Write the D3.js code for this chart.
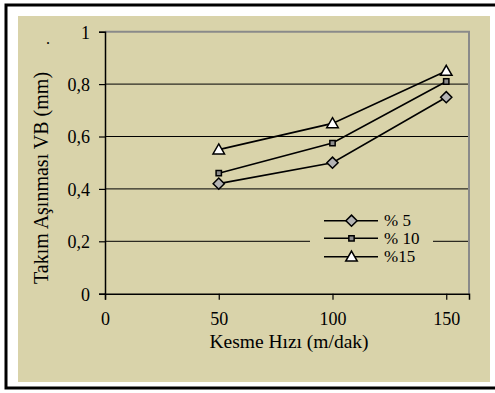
<!DOCTYPE html>
<html>
<head>
<meta charset="utf-8">
<script src="https://cdn.jsdelivr.net/npm/d3@7"></script>
<style>
    body { margin: 0; background: #fff; }
    svg { display: block; font-family: 'Liberation Serif', 'Times New Roman', serif; }
</style>
</head>
<body>
<svg id="chart" width="495" height="393"></svg>
<script>
'use strict';

// Data
const speeds = [50, 100, 150];
const wear5 = [0.42, 0.50, 0.75];
const wear10 = [0.46, 0.575, 0.81];
const wear15 = [0.55, 0.65, 0.85];
const seriesNames = ['% 5', '% 10', '%15'];
const xTicks = [0, 50, 100, 150];
const yTicks = [0, 0.2, 0.4, 0.6, 0.8, 1];

(function () {

    const svg = d3.select('#chart');
    const bg = '#d9d3aa';

    // Outer frame
    svg.append('rect')
        .attr('x', 18).attr('y', 16)
        .attr('width', 472).attr('height', 366)
        .attr('fill', bg);
    svg.append('path')
        .attr('d', 'M496,5 H6 V388 H496')
        .attr('fill', 'none')
        .attr('stroke', '#000')
        .attr('stroke-width', 3);

    // Plot area
    const plot = {left: 105, right: 469, top: 31.7, bottom: 293.7};

    const scX = d3.scaleLinear().domain([0, 160]).range([plot.left, plot.right]);
    const scY = d3.scaleLinear().domain([0, 1]).range([plot.bottom, plot.top]);

    // Gridlines
    svg.append('g')
        .selectAll('line')
        .data(yTicks.filter(d => d > 0 && d < 1))
        .enter()
        .append('line')
            .attr('x1', plot.left).attr('x2', plot.right)
            .attr('y1', d => scY(d)).attr('y2', d => scY(d))
            .attr('stroke', '#000')
            .attr('stroke-width', 1);

    // Plot border (top/right gray)
    svg.append('path')
        .attr('d', `M${plot.left},${plot.top} H${plot.right} V${plot.bottom}`)
        .attr('fill', 'none')
        .attr('stroke', '#8a8a8a')
        .attr('stroke-width', 2);

    // Axes
    const fmt = d => String(d).replace('.', ',');

    const yAxis = svg.append('g')
        .attr('transform', `translate(${plot.left},0)`)
        .call(d3.axisLeft(scY).tickValues(yTicks).tickFormat(fmt).tickSize(6).tickPadding(9));
    const xAxis = svg.append('g')
        .attr('transform', `translate(0,${plot.bottom})`)
        .call(d3.axisBottom(scX).tickValues(xTicks).tickSize(6).tickPadding(13));

    [yAxis, xAxis].forEach(ax => {
        ax.select('.domain').attr('stroke', '#000').attr('stroke-width', 1.5);
        ax.selectAll('.tick line').attr('stroke', '#000').attr('stroke-width', 1.2);
        ax.selectAll('.tick text')
            .attr('fill', '#000')
            .style('font-family', "'Liberation Serif', serif")
            .style('font-size', '18px');
    });
    yAxis.selectAll('.tick text').attr('dy', '0.36em');
    xAxis.selectAll('.tick text').attr('dy', '0.7em');

    // Axis titles
    svg.append('text')
        .attr('transform', 'translate(48,178) rotate(-90)')
        .attr('text-anchor', 'middle')
        .style('font-size', '20px')
        .text('Takım Aşınması VB (mm)');
    svg.append('text')
        .attr('x', 289).attr('y', 348)
        .attr('text-anchor', 'middle')
        .style('font-size', '19.5px')
        .text('Kesme Hızı (m/dak)');
    svg.append('text')
        .attr('x', 46).attr('y', 44)
        .style('font-size', '16px')
        .text('.');

    // Marker shapes
    const markers = [
        {sym: d3.symbolDiamond2, size: 80, fill: '#b4b4b4'},
        {sym: d3.symbolSquare2, size: 36, fill: '#8c8c8c'},
        {sym: d3.symbolTriangle2, size: 95, fill: '#ffffff'}
    ];
    const series = [wear5, wear10, wear15];

    const line = d3.line()
        .x((d, i) => scX(speeds[i]))
        .y(d => scY(d));

    series.forEach((vals) => {
        svg.append('path')
            .datum(vals)
            .attr('d', line)
            .attr('fill', 'none')
            .attr('stroke', '#000')
            .attr('stroke-width', 1.6);
    });

    series.forEach((vals, k) => {
        const m = markers[k];
        svg.append('g')
            .selectAll('path')
            .data(vals)
            .enter()
            .append('path')
                .attr('transform', (d, i) => `translate(${scX(speeds[i])},${scY(d) + (k === 2 ? 1 : 0)})`)
                .attr('d', d3.symbol().type(m.sym).size(m.size))
                .attr('fill', m.fill)
                .attr('stroke', '#000')
                .attr('stroke-width', 1.5);
    });

    // Legend
    const legend = svg.append('g');
    legend.append('rect')
        .attr('x', 310).attr('y', 210)
        .attr('width', 123).attr('height', 57)
        .attr('fill', bg);

    const rowY = [220.7, 238.3, 256.7];
    seriesNames.forEach((name, k) => {
        const m = markers[k];
        legend.append('line')
            .attr('x1', 324).attr('x2', 378)
            .attr('y1', rowY[k]).attr('y2', rowY[k])
            .attr('stroke', '#000')
            .attr('stroke-width', 1.6);
        legend.append('path')
            .attr('transform', `translate(351.5,${rowY[k] + (k === 2 ? 1 : 0)})`)
            .attr('d', d3.symbol().type(m.sym).size(m.size))
            .attr('fill', m.fill)
            .attr('stroke', '#000')
            .attr('stroke-width', 1.5);
        legend.append('text')
            .attr('x', 384).attr('y', rowY[k] + 5.5)
            .style('font-size', '17px')
            .text(name);
    });

})();
</script>
</body>
</html>
